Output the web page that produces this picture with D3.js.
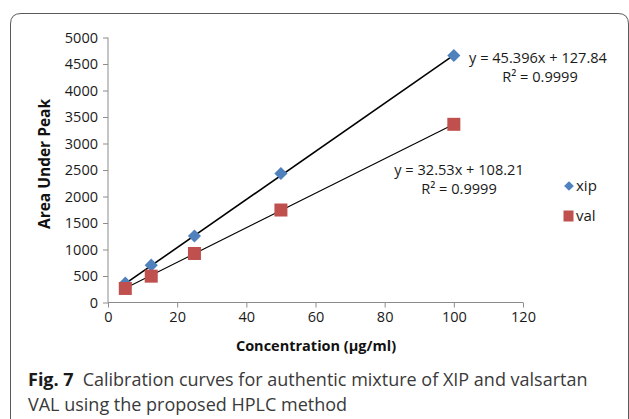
<!DOCTYPE html>
<html>
<head>
<meta charset="utf-8">
<script src="https://cdn.jsdelivr.net/npm/d3@7"></script>
<style>
  body { margin: 0; background: #fff; }
  svg { display: block; }
</style>
</head>
<body>
<svg id="chart"></svg>
<script>
// concentration (µg/ml) and measured peak areas
const concentrations = [5, 12.5, 25, 50, 100];
const xipArea = [365, 705, 1255, 2435, 4660];
const valArea = [265, 497, 925, 1745, 3362];

// trendline coefficients as printed on the chart
const xipFit = [45.396, 127.84];
const valFit = [32.53, 108.21];

const xTicks = [0, 20, 40, 60, 80, 100, 120];
const yTicks = [0, 500, 1000, 1500, 2000, 2500, 3000, 3500, 4000, 4500, 5000];

const W = 629, H = 419;
const font = "'Open Sans', sans-serif";

const svg = d3.select("#chart").attr("width", W).attr("height", H);

// outer frame, open at the bottom
svg.append("path")
  .attr("d", "M10.5,419 L10.5,24 Q10.5,13.5 21,13.5 L618,13.5 Q628.5,13.5 628.5,24 L628.5,419")
  .attr("fill", "none")
  .attr("stroke", "#5a5a5a")
  .attr("stroke-width", 1);

const x = d3.scaleLinear().domain([0, 120]).range([108, 523]);
const y = d3.scaleLinear().domain([0, 5000]).range([302.5, 37.5]);

// axes
const xAxis = svg.append("g")
  .attr("transform", `translate(0, ${y(0)})`)
  .call(d3.axisBottom(x).tickValues(xTicks).tickSize(5).tickPadding(4).tickFormat(d3.format("d")));
const yAxis = svg.append("g")
  .attr("transform", `translate(${x(0)}, 0)`)
  .call(d3.axisLeft(y).tickValues(yTicks).tickSize(5).tickPadding(5).tickFormat(d3.format("d")));

[xAxis, yAxis].forEach(g => {
  g.selectAll("path, line").attr("stroke", "#8c8c8c");
  g.select(".domain").attr("d", null);
  g.selectAll("text")
    .style("font-family", font)
    .style("font-size", "14.5px")
    .attr("fill", "#1a1a1a");
});
xAxis.append("line").attr("x1", x(0)).attr("x2", x(120)).attr("stroke", "#8c8c8c");
yAxis.append("line").attr("y1", y(0)).attr("y2", y(5000)).attr("stroke", "#8c8c8c");

// axis titles
svg.append("text")
  .attr("x", 316).attr("y", 351)
  .attr("text-anchor", "middle")
  .style("font-family", font).style("font-size", "14.5px").style("font-weight", "bold")
  .attr("fill", "#111")
  .text("Concentration (µg/ml)");

svg.append("text")
  .attr("transform", "translate(50, 164) rotate(-90)")
  .attr("text-anchor", "middle")
  .style("font-family", font).style("font-size", "15.5px").style("font-weight", "bold")
  .attr("fill", "#111")
  .text("Area Under Peak");

// trendlines
const line = d3.line().x(d => x(d[0])).y(d => y(d[1]));
const xRange = [concentrations[0], concentrations[concentrations.length - 1]];
svg.append("path")
  .datum(xRange.map(c => [c, xipFit[0] * c + xipFit[1]]))
  .attr("d", line).attr("stroke", "#000").attr("stroke-width", 1.6).attr("fill", "none");
svg.append("path")
  .datum(xRange.map(c => [c, valFit[0] * c + valFit[1]]))
  .attr("d", line).attr("stroke", "#000").attr("stroke-width", 1.1).attr("fill", "none");

// markers: diamonds for xip, squares for val
const diamond = d3.symbol().type(d3.symbolDiamond2).size(110);
svg.append("g").selectAll("path")
  .data(concentrations.map((c, i) => [c, xipArea[i]]))
  .join("path")
  .attr("d", diamond)
  .attr("transform", d => `translate(${x(d[0])}, ${y(d[1])})`)
  .attr("fill", "#4f81bd");

svg.append("g").selectAll("rect")
  .data(concentrations.map((c, i) => [c, valArea[i]]))
  .join("rect")
  .attr("x", d => x(d[0]) - 6.5).attr("y", d => y(d[1]) - 6.5)
  .attr("width", 13).attr("height", 13)
  .attr("fill", "#c0504d");

// equation labels
const eq = [
  [538, 63, "y = 45.396x + 127.84"],
  [540, 82, "R² = 0.9999"],
  [459, 175, "y = 32.53x + 108.21"],
  [459, 194, "R² = 0.9999"]
];
svg.append("g").selectAll("text")
  .data(eq)
  .join("text")
  .attr("x", d => d[0]).attr("y", d => d[1])
  .attr("text-anchor", "middle")
  .style("font-family", font).style("font-size", "14.6px")
  .attr("fill", "#1a1a1a")
  .text(d => d[2]);

// legend
const legend = svg.append("g");
legend.append("path")
  .attr("d", d3.symbol().type(d3.symbolDiamond2).size(60))
  .attr("transform", "translate(569, 186)")
  .attr("fill", "#4f81bd");
legend.append("rect")
  .attr("x", 563.5).attr("y", 210.5).attr("width", 10).attr("height", 11)
  .attr("fill", "#c0504d");
legend.selectAll("text")
  .data([["xip", 191], ["val", 221]])
  .join("text")
  .attr("x", 576).attr("y", d => d[1])
  .style("font-family", font).style("font-size", "15px")
  .attr("fill", "#1a1a1a")
  .text(d => d[0]);

// caption
const cap = svg.append("g")
  .style("font-family", font).style("font-size", "18px")
  .attr("fill", "#3a3a3a");
const l1 = cap.append("text").attr("x", 28).attr("y", 386);
l1.append("tspan").style("font-weight", "bold").attr("fill", "#1a1a1a").text("Fig. 7");
l1.append("tspan").attr("dx", 9).text("Calibration curves for authentic mixture of XIP and valsartan");
cap.append("text").attr("x", 28).attr("y", 411).text("VAL using the proposed HPLC method");
</script>
</body>
</html>
